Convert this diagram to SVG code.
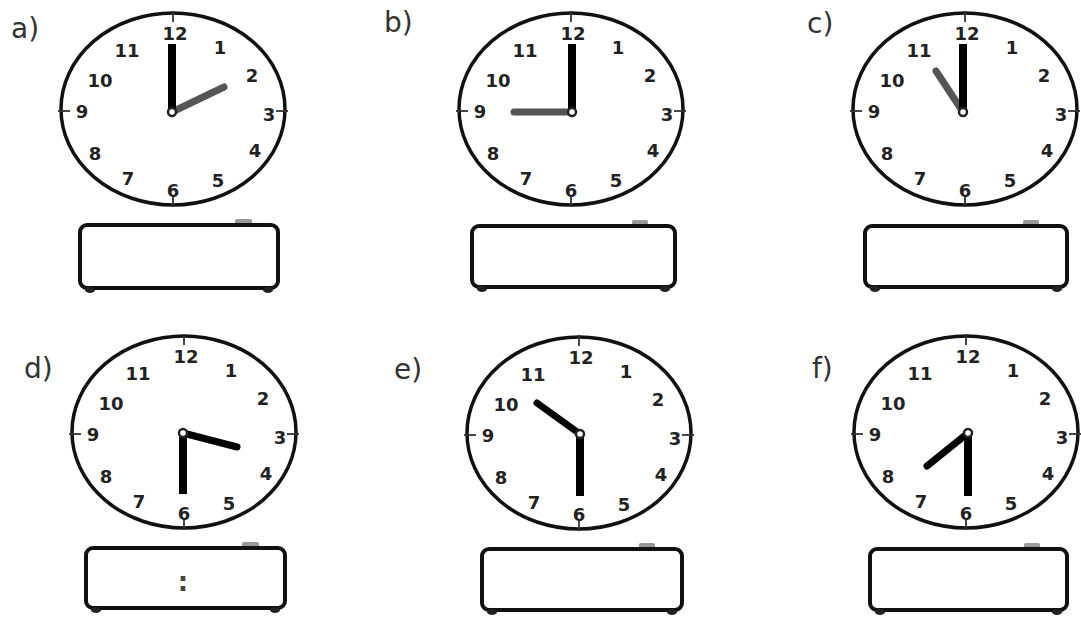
<svg xmlns="http://www.w3.org/2000/svg" xmlns:xlink="http://www.w3.org/1999/xlink" width="1081" height="617" viewBox="0 0 1081 617">
<style>
.rim{fill:#fff;stroke:#111;stroke-width:3.5}
.tick{stroke:#333;stroke-width:1.8}
.num{font-family:"DejaVu Sans",sans-serif;font-weight:bold;font-size:18px;fill:#222;text-anchor:middle}
.lbl{font-family:"DejaVu Sans",sans-serif;font-size:28px;fill:#333}
.min{stroke:#000;stroke-width:8;stroke-linecap:butt}
.hrg{stroke:#555;stroke-width:7;stroke-linecap:round}
.hrb{stroke:#000;stroke-width:7;stroke-linecap:round}
.piv{fill:#fff;stroke:#222;stroke-width:2.5}
.box{fill:#fff;stroke:#111;stroke-width:4}
.btn{fill:#999}
.foot{fill:#222}
.colon{font-family:"DejaVu Sans",sans-serif;font-weight:bold;font-size:26px;fill:#444;text-anchor:middle}
</style>
<defs>
<g id="face">
<ellipse class="rim" cx="0" cy="0" rx="112" ry="96"/>
<line class="tick" x1="0" y1="-98" x2="0" y2="-87"/>
<line class="tick" x1="0" y1="87" x2="0" y2="98"/>
<line class="tick" x1="-115" y1="2" x2="-103" y2="2"/>
<line class="tick" x1="103" y1="2" x2="115" y2="2"/>
<text class="num" x="2" y="-69">12</text>
<text class="num" x="47" y="-55">1</text>
<text class="num" x="79" y="-27">2</text>
<text class="num" x="96" y="12">3</text>
<text class="num" x="82" y="48">4</text>
<text class="num" x="45" y="78">5</text>
<text class="num" x="0" y="88">6</text>
<text class="num" x="-45" y="76">7</text>
<text class="num" x="-78" y="51">8</text>
<text class="num" x="-91" y="9">9</text>
<text class="num" x="-73" y="-22">10</text>
<text class="num" x="-46" y="-52">11</text>
</g>
</defs>

<g id="clock-a">
<text class="lbl" x="11" y="38">a)</text>
<use xlink:href="#face" transform="translate(173,109)"/>
<line class="hrg" x1="172" y1="112" x2="224" y2="87"/>
<line class="min" x1="172" y1="112" x2="172" y2="44"/>
<circle class="piv" cx="172" cy="112" r="4"/>
<rect class="btn" x="235" y="219" width="17" height="6" rx="2"/>
<rect class="box" x="80" y="225" width="198" height="63" rx="7"/>
<ellipse class="foot" cx="90" cy="290" rx="5" ry="3"/>
<ellipse class="foot" cx="268" cy="290" rx="5" ry="3"/>
</g>

<g id="clock-b">
<text class="lbl" x="384" y="32">b)</text>
<use xlink:href="#face" transform="translate(571,109)"/>
<line class="hrg" x1="572" y1="112" x2="514" y2="112"/>
<line class="min" x1="572" y1="112" x2="572" y2="44"/>
<circle class="piv" cx="572" cy="112" r="4"/>
<rect class="btn" x="632" y="220" width="16" height="6" rx="2"/>
<rect class="box" x="472" y="226" width="203" height="61" rx="7"/>
<ellipse class="foot" cx="482" cy="289" rx="5" ry="3"/>
<ellipse class="foot" cx="665" cy="289" rx="5" ry="3"/>
</g>

<g id="clock-c">
<text class="lbl" x="807" y="33">c)</text>
<use xlink:href="#face" transform="translate(965,109)"/>
<line class="hrg" x1="963" y1="112" x2="936" y2="71"/>
<line class="min" x1="963" y1="112" x2="963" y2="44"/>
<circle class="piv" cx="963" cy="112" r="4"/>
<rect class="btn" x="1023" y="220" width="16" height="6" rx="2"/>
<rect class="box" x="865" y="226" width="202" height="61" rx="7"/>
<ellipse class="foot" cx="875" cy="289" rx="5" ry="3"/>
<ellipse class="foot" cx="1057" cy="289" rx="5" ry="3"/>
</g>

<g id="clock-d">
<text class="lbl" x="24" y="378">d)</text>
<use xlink:href="#face" transform="translate(184,432)"/>
<line class="hrb" x1="183" y1="433" x2="237" y2="447"/>
<line class="min" x1="183" y1="433" x2="183" y2="494"/>
<circle class="piv" cx="183" cy="433" r="4"/>
<rect class="btn" x="242" y="542" width="17" height="6" rx="2"/>
<rect class="box" x="86" y="548" width="199" height="60" rx="7"/>
<ellipse class="foot" cx="96" cy="610" rx="5" ry="3"/>
<ellipse class="foot" cx="275" cy="610" rx="5" ry="3"/>
<text class="colon" x="183" y="591">:</text>
</g>

<g id="clock-e">
<text class="lbl" x="394" y="379">e)</text>
<use xlink:href="#face" transform="translate(579,433)"/>
<line class="hrb" x1="580" y1="434" x2="537" y2="403"/>
<line class="min" x1="580" y1="434" x2="580" y2="496"/>
<circle class="piv" cx="580" cy="434" r="4"/>
<rect class="btn" x="639" y="543" width="16" height="6" rx="2"/>
<rect class="box" x="482" y="549" width="200" height="61" rx="7"/>
<ellipse class="foot" cx="492" cy="612" rx="5" ry="3"/>
<ellipse class="foot" cx="672" cy="612" rx="5" ry="3"/>
</g>

<g id="clock-f">
<text class="lbl" x="812" y="378">f)</text>
<use xlink:href="#face" transform="translate(966,432)"/>
<line class="hrb" x1="968" y1="433" x2="927" y2="466"/>
<line class="min" x1="968" y1="433" x2="968" y2="496"/>
<circle class="piv" cx="968" cy="433" r="4"/>
<rect class="btn" x="1024" y="543" width="16" height="6" rx="2"/>
<rect class="box" x="870" y="549" width="197" height="61" rx="7"/>
<ellipse class="foot" cx="880" cy="612" rx="5" ry="3"/>
<ellipse class="foot" cx="1057" cy="612" rx="5" ry="3"/>
</g>

<g id="connectors"></g>
</svg>
